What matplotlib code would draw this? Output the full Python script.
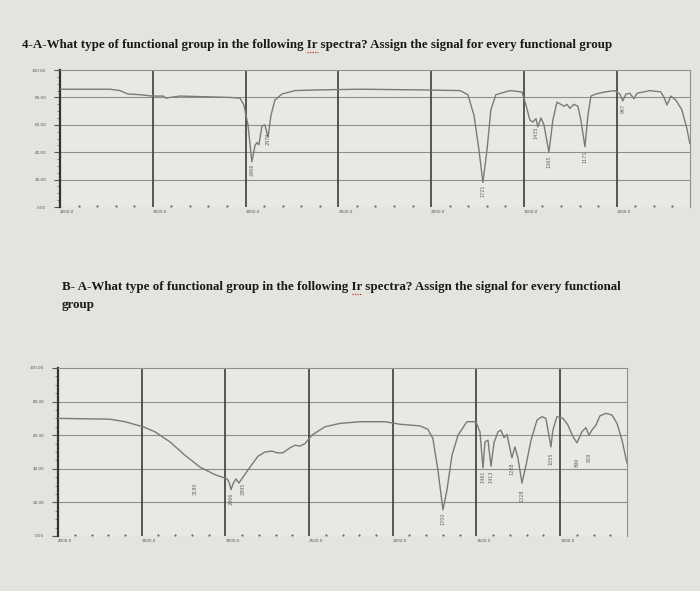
import matplotlib.pyplot as plt
from matplotlib.ticker import MultipleLocator
from matplotlib.lines import Line2D

# IR spectrum A (wavenumber cm-1, %T)
wn_a = [4000, 3731, 3677, 3634, 3569, 3504, 3445, 3429, 3407, 3353, 3084, 3030, 3009, 2987,
        2966, 2949, 2939, 2928, 2912, 2896, 2879, 2863, 2842, 2804, 2734, 2599, 2384, 2060,
        1845, 1802, 1769, 1742, 1721, 1699, 1678, 1651, 1575, 1511, 1489, 1468, 1452, 1435,
        1425, 1408, 1392, 1365, 1344, 1322, 1301, 1284, 1268, 1252, 1231, 1209, 1193, 1171,
        1155, 1139, 1112, 1064, 1010, 983, 967, 950, 929, 907, 891, 821, 762, 745, 729, 708,
        681, 649, 622, 606]
t_a = [86, 86, 85, 82.5, 82, 81, 81, 79.5, 80, 81, 80, 79.5, 74.5, 60,
       33, 45, 47, 45.5, 59, 60, 51, 67, 78, 82.5, 85, 85.5, 86, 85.5,
       85, 82, 67, 41.5, 18, 41.5, 71, 82, 85, 84, 74.5, 63.5, 62, 64.5,
       58.5, 65, 60, 40, 63.5, 76.5, 75, 73.5, 75, 72, 75, 73.5, 63.5, 44,
       67, 81, 82.5, 84, 85, 82.5, 77.5, 82.5, 83, 79, 83, 85, 84, 80, 74.5, 81,
       78, 71, 57.5, 46.5]
peaks_a = [(2966, 27, '2966'), (2879, 50, '2879'), (1721, 12, '1721'), (1435, 54, '1435'),
           (1365, 33, '1365'), (1171, 37, '1171'), (967, 72, '967')]

# IR spectrum B
wn_b = [4000, 3689, 3600, 3492, 3421, 3331, 3241, 3152, 3062, 2990, 2978, 2966, 2955, 2937,
        2919, 2895, 2853, 2805, 2763, 2722, 2692, 2656, 2614, 2584, 2554, 2524, 2483, 2405,
        2315, 2196, 2047, 1957, 1837, 1790, 1760, 1730, 1700, 1676, 1646, 1610, 1557, 1503,
        1479, 1461, 1449, 1431, 1413, 1395, 1371, 1354, 1335, 1318, 1288, 1270, 1252, 1228,
        1204, 1174, 1138, 1109, 1085, 1067, 1055, 1043, 1019, 983, 953, 923, 899, 870, 846,
        828, 810, 786, 762, 726, 690, 660, 630, 601]
t_b = [70, 69.5, 68, 65, 62, 56, 48, 41, 36.5, 34, 32, 27.5, 31, 34,
       31.5, 35, 41, 47.5, 50, 50.5, 49.5, 49.5, 52.5, 54, 53.5, 55, 60, 65,
       67, 68, 68, 66.5, 65.5, 63.5, 58, 39, 15.5, 27.5, 48, 60, 68, 68,
       62, 40.5, 56, 57, 41.5, 55.5, 62, 63, 58.5, 60.5, 46.5, 53, 46.5, 31.5,
       42, 57, 69, 71, 70, 60, 53, 63, 71, 70, 66, 59, 55.5, 62, 64.5,
       60, 63, 66, 71.5, 73, 72, 67, 57, 43.5]
peaks_b = [(3180, 28, '3180'), (2966, 22, '2966'), (2895, 28, '2895'), (1700, 10, '1700'),
           (1461, 35, '1461'), (1413, 35, '1413'), (1288, 40, '1288'), (1228, 24, '1228'),
           (1055, 46, '1055'), (899, 44, '899'), (828, 47, '828')]

xticks = [4000, 3500, 3000, 2500, 2000, 1500, 1000]
xlabels = ['4000.0', '3500.0', '3000.0', '2500.0', '2000.0', '1500.0', '1000.0']
ylabels = ['0.00', '20.00', '40.00', '60.00', '80.00', '100.00']

paper = '#e5e3dd'
plt.rcParams['font.family'] = ['Liberation Serif', 'DejaVu Serif']

fig = plt.figure(figsize=(7, 5.91), dpi=100, facecolor=paper)


def spectrum(ax, wn, t, peaks, xmin):
    ax.set_facecolor('#e9e8e3')
    ax.set_xlim(4000, xmin)
    ax.set_ylim(0, 100)
    for y in [20, 40, 60, 80]:
        ax.axhline(y, color='#8f8f8f', lw=0.8, zorder=1)
    for x in xticks[1:]:
        ax.axvline(x, color='#4a4a4a', lw=1.3, zorder=1)
    ax.plot(wn, t, color='#7a7a7a', lw=1.0, zorder=3)
    for x, y, s in peaks:
        ax.text(x, y, s, rotation=90, fontsize=3.5, color='#666666',
                ha='center', va='center', family='DejaVu Sans')
    ax.spines['left'].set_color('#333333')
    ax.spines['left'].set_linewidth(1.6)
    ax.spines['top'].set_color('#8f8f8f')
    ax.spines['right'].set_color('#8f8f8f')
    ax.spines['bottom'].set_visible(False)
    ax.set_xticks(xticks)
    ax.set_xticklabels(xlabels, fontsize=3, color='#555555', ha='left', family='DejaVu Sans')
    ax.xaxis.set_minor_locator(MultipleLocator(100))
    ax.tick_params(axis='x', which='both', length=0, pad=2)
    ax.set_yticks([0, 20, 40, 60, 80, 100])
    ax.set_yticklabels(ylabels, fontsize=3, color='#555555', family='DejaVu Sans')
    ax.yaxis.set_minor_locator(MultipleLocator(5))
    ax.tick_params(axis='y', which='major', length=4, color='#555555', pad=6)
    ax.tick_params(axis='y', which='minor', length=2.5, color='#777777')
    # dotted marks along the bottom edge
    for x in range(3900, int(xmin), -100):
        if x % 500:
            ax.plot(x, 0.5, marker='.', ms=1.2, color='#666666', clip_on=False)


ax1 = fig.add_axes([0.0857, 0.6497, 0.900, 0.2318])
spectrum(ax1, wn_a, t_a, peaks_a, 605)

ax2 = fig.add_axes([0.0829, 0.0931, 0.8129, 0.2843])
spectrum(ax2, wn_b, t_b, peaks_b, 600)

fs = 9.4
q1_pre = '4-A-What type of functional group in the following '
q1 = q1_pre + 'Ir spectra? Assign the signal for every functional group'
q2_pre = 'B- A-What type of functional group in the following '
q2 = q2_pre + 'Ir spectra? Assign the signal for every functional'

renderer = fig.canvas.get_renderer()
for x0, y0, full, pre in [(22, 45, q1, q1_pre), (62, 287, q2, q2_pre)]:
    fig.text(x0 / 700, 1 - y0 / 591, full, fontsize=fs, fontweight='bold',
             va='center', color='#1a1a1a')
    # red spell-check squiggle under "Ir"
    probe = fig.text(x0 / 700, 0, pre, fontsize=fs, fontweight='bold')
    w_pre = probe.get_window_extent(renderer).width
    probe.set_text(pre + 'Ir')
    w_ir = probe.get_window_extent(renderer).width
    probe.remove()
    xa = x0 + w_pre
    xb = x0 + w_ir
    fig.add_artist(Line2D([xa / 700, xb / 700], [1 - (y0 + 7) / 591] * 2,
                          color='#c0392b', lw=0.9, ls=(0, (1, 1))))

fig.text(62 / 700, 1 - 305 / 591, 'group',
         fontsize=fs, fontweight='bold', va='center', color='#1a1a1a')

fig.savefig('out.png', dpi=100, facecolor=fig.get_facecolor())
